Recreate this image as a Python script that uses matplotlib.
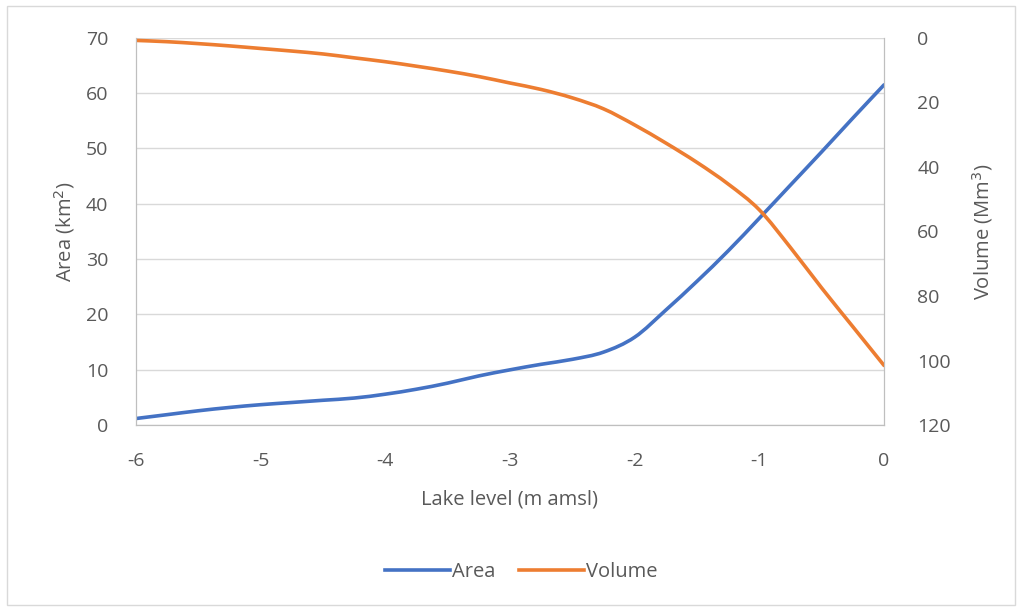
import matplotlib
matplotlib.use("Agg")
import matplotlib.pyplot as plt
from matplotlib.patches import Rectangle, PathPatch
from matplotlib.path import Path
from matplotlib.lines import Line2D

plt.rcParams['font.family'] = ['Open Sans', 'DejaVu Sans']
plt.rcParams['axes.unicode_minus'] = False

level = [-6, -5.75, -5.5, -5.25, -5, -4.75, -4.5, -4.25, -4, -3.75, -3.5, -3.25, -3,
         -2.75, -2.5, -2.25, -2, -1.75, -1.5, -1.25, -1, -0.75, -0.5, -0.25, 0]
area = [1.2, 1.9, 2.6, 3.2, 3.7, 4.1, 4.5, 4.9, 5.6, 6.5, 7.6, 8.9, 10.0,
        11.0, 11.9, 13.2, 15.9, 20.8, 26.0, 31.5, 37.4, 43.4, 49.4, 55.5, 61.5]
volume = [0.8, 1.2, 1.8, 2.5, 3.3, 4.1, 5.0, 6.2, 7.4, 8.8, 10.3, 12.0, 14.0,
          16.0, 18.6, 22.0, 27.0, 32.6, 38.6, 45.3, 53.3, 65.0, 77.5, 89.5, 101.5]

xticks = [-6, -5, -4, -3, -2, -1, 0]
area_ticks = [0, 10, 20, 30, 40, 50, 60, 70]
vol_ticks = [0, 20, 40, 60, 80, 100, 120]

txt = '#595959'
grid = '#d9d9d9'
blue = '#4472C4'
orange = '#ED7D31'


def smooth_path(xs, ys):
    """Bezier path through the data points (like a smoothed spreadsheet line)."""
    pts = list(zip(xs, ys))
    n = len(pts)
    verts = [pts[0]]
    codes = [Path.MOVETO]
    for i in range(n - 1):
        p0 = pts[i - 1] if i > 0 else pts[i]
        p1 = pts[i]
        p2 = pts[i + 1]
        p3 = pts[i + 2] if i + 2 < n else pts[i + 1]
        c1 = (p1[0] + (p2[0] - p0[0]) / 6, p1[1] + (p2[1] - p0[1]) / 6)
        c2 = (p2[0] - (p3[0] - p1[0]) / 6, p2[1] - (p3[1] - p1[1]) / 6)
        verts += [c1, c2, p2]
        codes += [Path.CURVE4] * 3
    return Path(verts, codes)


fig = plt.figure(figsize=(10.22, 6.10), dpi=100)
fig.patches.append(Rectangle((0.007, 0.008), 0.986, 0.982, transform=fig.transFigure,
                             fill=False, edgecolor='#d9d9d9', linewidth=1))
ax = fig.add_axes([0.133, 0.303, 0.732, 0.635])
ax2 = ax.twinx()

ax.add_patch(PathPatch(smooth_path(level, area), fill=False, edgecolor=blue,
                       lw=2.6, capstyle='round', joinstyle='round'))
ax2.add_patch(PathPatch(smooth_path(level, volume), fill=False, edgecolor=orange,
                        lw=2.6, capstyle='round', joinstyle='round'))

ax.set_xlim(-6, 0)
ax.set_ylim(0, 70)
ax2.set_ylim(120, 0)
ax.set_xticks(xticks)
ax.set_yticks(area_ticks)
ax2.set_yticks(vol_ticks)
ax.grid(axis='y', color=grid, lw=1)
ax.set_axisbelow(True)

for a in (ax, ax2):
    for s in a.spines.values():
        s.set_color('#bfbfbf')
    a.spines['top'].set_visible(False)
    a.tick_params(length=0, labelsize=14, colors=txt)
ax.tick_params(axis='x', pad=19)
ax.tick_params(axis='y', pad=20)
ax2.tick_params(axis='y', pad=24)

ax.set_xlabel('Lake level (m amsl)', fontsize=14.5, color=txt, labelpad=14)
ax.set_ylabel('Area (km$^2$)', fontsize=14.5, color=txt, labelpad=6)
ax2.set_ylabel('Volume (Mm$^3$)', fontsize=14.5, color=txt, labelpad=14)

h1 = Line2D([], [], color=blue, lw=2.6)
h2 = Line2D([], [], color=orange, lw=2.6)
fig.legend(handles=[h1, h2], labels=['Area', 'Volume'], loc='center',
           bbox_to_anchor=(0.51, 0.062), ncol=2,
           frameon=False, fontsize=14.5, labelcolor=txt, handlelength=3.2,
           handletextpad=0.1, columnspacing=1.2)

fig.savefig('out.png', dpi=100, facecolor='white')
